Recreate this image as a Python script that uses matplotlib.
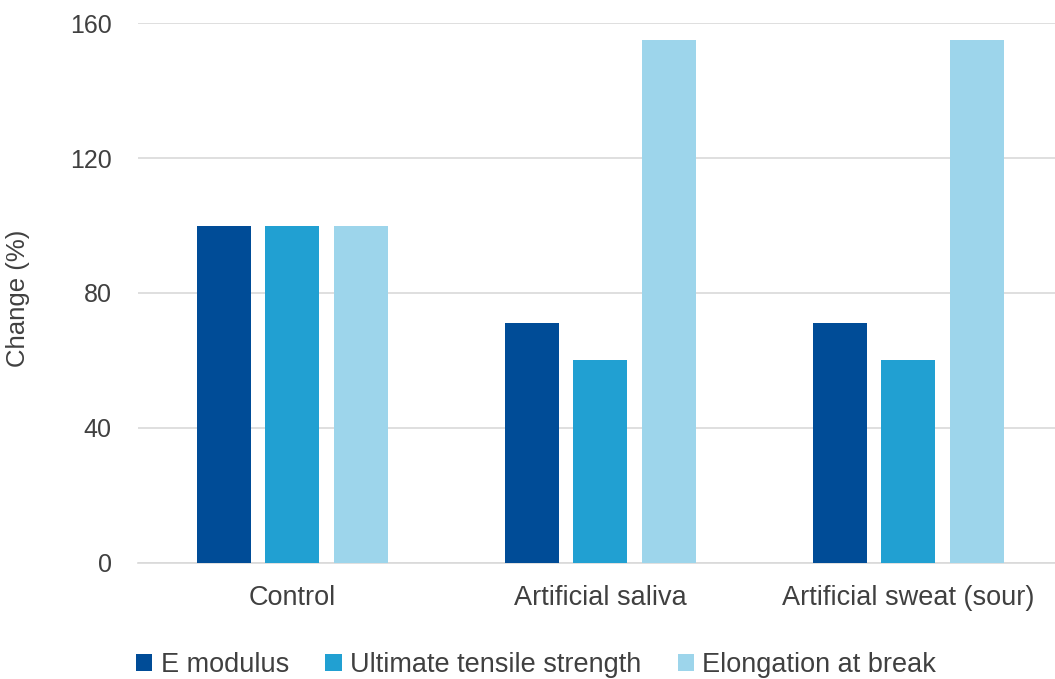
import numpy as np
import matplotlib
matplotlib.use('Agg')
import matplotlib.pyplot as plt

plt.rcParams['font.family'] = ['Liberation Sans', 'DejaVu Sans']

categories = ['Control', 'Artificial saliva', 'Artificial sweat (sour)']
series = ['E modulus', 'Ultimate tensile strength', 'Elongation at break']
e_modulus = [100, 71, 71]
uts = [100, 60, 60]
elongation = [100, 155, 155]
values = [e_modulus, uts, elongation]
colors = ['#004C97', '#21A0D2', '#9DD5EB']
yticks = [0, 40, 80, 120, 160]

fig = plt.figure(figsize=(10.55, 6.79), dpi=100)
ax = fig.add_axes([0.131, 0.171, 0.876, 0.795])

x = np.arange(len(categories))
step = 0.222
width = 0.176
for i, (name, vals) in enumerate(zip(series, values)):
    ax.bar(x + (i - 1) * step, vals, width, color=colors[i], label=name, zorder=3)

ax.set_xlim(-0.5, 2.5)
ax.set_ylim(0, 160)
ax.set_yticks(yticks)
ax.set_xticks(x)
ax.set_xticklabels(categories)
ax.grid(axis='y', color='#d9d9d9', linewidth=1.2, zorder=0)
for s in ['top', 'right', 'left']:
    ax.spines[s].set_visible(False)
ax.spines['bottom'].set_color('#d9d9d9')
ax.spines['bottom'].set_linewidth(1.2)
ax.tick_params(axis='both', length=0, labelcolor='#404040')
ax.tick_params(axis='x', pad=16, labelsize=19.5)
ax.tick_params(axis='y', pad=19, labelsize=18)
ax.set_ylabel('Change (%)', fontsize=18.5, color='#404040')
ax.yaxis.set_label_coords(-0.117, 0.49)

fig.legend(loc='lower center', bbox_to_anchor=(0.508, -0.035), ncol=3, frameon=False,
           fontsize=19.5, handlelength=0.6, handleheight=0.6, handletextpad=0.3,
           columnspacing=1.35, labelcolor='#404040')

fig.savefig('out.png', dpi=100)
